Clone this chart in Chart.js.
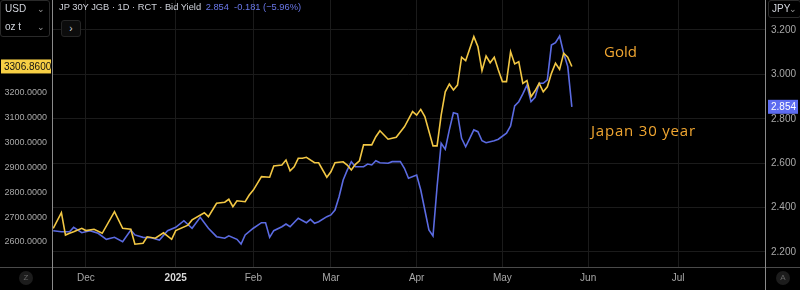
<!DOCTYPE html>
<html>
<head>
<meta charset="utf-8">
<script src="https://cdn.jsdelivr.net/npm/chart.js@4.4.1/dist/chart.umd.min.js"></script>
<style>
  html, body { margin: 0; padding: 0; background: #000; }
  #wrap { position: relative; width: 800px; height: 290px; overflow: hidden; font-family: "Liberation Sans", Arial, sans-serif; }
  canvas { position: absolute; left: 0; top: 0; }
  .box { position: absolute; border: 1px solid #2a2a2a; border-radius: 3px; color: #d1d4dc; font-size: 10px; }
  .row { position: absolute; left: 4px; right: 4px; height: 14px; line-height: 14px; }
  .row span { position: absolute; right: 0; color: #9a9a9a; font-size: 9px; }
  #title { position: absolute; left: 59px; top: 2px; font-size: 9.3px; color: #d1d4dc; white-space: nowrap; }
  #title .chg { color: #6a78ea; margin-left: 2px; }
  #toggle { position: absolute; left: 61px; top: 20px; width: 18px; height: 15px; border: 1px solid #262626; border-radius: 3px; background: #0c0c0c; color: #d1d4dc; font-size: 10px; line-height: 15px; text-align: center; }
  .note { position: absolute; color: #f0a631; font-family: "Open Sans", sans-serif; font-size: 15px; white-space: nowrap; }
  .circ { position: absolute; width: 14px; height: 14px; border-radius: 7px; background: #1c1c1c; color: #666; font-size: 8px; line-height: 14px; text-align: center; }
</style>
</head>
<body>
<div id="wrap">
  <canvas id="chart" width="800" height="290"></canvas>
  <div class="box" style="left:0;top:0;width:48px;height:35px;">
    <div class="row" style="top:1px;">USD<span>⌄</span></div>
    <div class="row" style="top:19px;">oz t<span>⌄</span></div>
  </div>
  <div class="box" style="left:768px;top:0;width:31px;height:16px;">
    <div class="row" style="top:1px;left:3px;right:3px;">JPY<span>⌄</span></div>
  </div>
  <div id="title">JP 30Y JGB · 1D · RCT · Bid Yield <span class="chg">2.854&nbsp; -0.181 (−5.96%)</span></div>
  <div id="toggle">›</div>
  <div class="note" style="left:604px;top:41px;">Gold</div>
  <div class="note" style="left:591px;top:120px;letter-spacing:0.8px;">Japan 30 year</div>
  <div class="circ" style="left:19px;top:271px;">Z</div>
  <div class="circ" style="left:776px;top:271px;">A</div>
</div>
<script>
// trading-day index (0 = first session of Dec 2024)
const monthTicks = [0, 22, 41, 60, 81, 102, 123, 145];
const monthLabels = ['Dec', '2025', 'Feb', 'Mar', 'Apr', 'May', 'Jun', 'Jul'];

const goldDays = [-8, -6, -5, -4, -3, -1, 0, 2, 4, 7, 9, 11, 12, 14, 15, 17, 19, 21, 22, 25,
  26, 29, 30, 32, 34, 35, 36, 37, 39, 40, 41, 43, 45, 46, 48, 49, 50, 51, 52, 53,
  54, 56, 57, 59, 60, 61, 63, 64, 65, 66, 67, 68, 70, 71, 72, 74, 76, 77, 78, 80,
  81, 82, 83, 85, 86, 87, 88, 89, 90, 91, 92, 93, 95, 96, 97, 98, 99, 100, 101, 102,
  103, 104, 105, 106, 107, 108, 109, 110, 111, 112, 113, 114, 115, 116, 117, 118, 119];
const goldPrices = [2655, 2718, 2628, 2635, 2641, 2655, 2646, 2651, 2635, 2722, 2655, 2651, 2591, 2595, 2621, 2615, 2637, 2611, 2646, 2668,
  2689, 2718, 2702, 2756, 2760, 2772, 2742, 2766, 2762, 2789, 2809, 2863, 2861, 2906, 2910, 2930, 2887, 2903, 2937, 2937,
  2941, 2919, 2919, 2861, 2883, 2919, 2923, 2910, 2890, 2913, 2927, 2991, 2991, 3024, 3048, 3014, 3022, 3043, 3064, 3125,
  3111, 3134, 3105, 2987, 2987, 3111, 3205, 3236, 3212, 3232, 3344, 3330, 3427, 3386, 3290, 3349, 3322, 3344, 3293, 3246,
  3246, 3366, 3317, 3326, 3239, 3250, 3185, 3209, 3239, 3205, 3225, 3279, 3320, 3295, 3360, 3344, 3306.86];

const jgbDays = [-8, -6, -4, -3, -1, 1, 3, 5, 7, 9, 11, 12, 14, 16, 18, 20, 22, 24, 26, 28,
  30, 32, 34, 35, 37, 38, 39, 41, 43, 44, 45, 46, 48, 49, 50, 52, 54, 55, 56, 57,
  59, 60, 61, 62, 63, 64, 65, 66, 68, 69, 70, 71, 72, 74, 75, 77, 78, 79, 81, 82,
  83, 84, 85, 86, 87, 88, 89, 90, 91, 92, 93, 94, 95, 96, 97, 98, 100, 101, 103, 104,
  105, 106, 107, 108, 109, 110, 111, 112, 113, 114, 115, 116, 117, 118, 119];
const jgbYields = [2.296, 2.291, 2.291, 2.311, 2.287, 2.296, 2.284, 2.257, 2.266, 2.246, 2.299, 2.277, 2.266, 2.264, 2.254, 2.296, 2.311, 2.341, 2.307, 2.356,
  2.307, 2.269, 2.262, 2.273, 2.257, 2.236, 2.277, 2.307, 2.332, 2.332, 2.266, 2.296, 2.314, 2.326, 2.314, 2.352, 2.332, 2.347, 2.329, 2.336,
  2.359, 2.367, 2.389, 2.449, 2.524, 2.569, 2.607, 2.584, 2.584, 2.596, 2.592, 2.611, 2.602, 2.600, 2.607, 2.607, 2.577, 2.532, 2.547, 2.479,
  2.389, 2.299, 2.272, 2.494, 2.690, 2.663, 2.750, 2.827, 2.822, 2.712, 2.674, 2.712, 2.750, 2.742, 2.701, 2.692, 2.701, 2.708, 2.735, 2.768,
  2.858, 2.877, 2.912, 2.952, 2.877, 2.897, 2.960, 2.960, 2.975, 3.132, 3.143, 3.173, 3.095, 3.035, 2.854];

const goldTicks = [2600, 2700, 2800, 2900, 3000, 3100, 3200];
const jgbTicks = [2.2, 2.4, 2.6, 2.8, 3.0, 3.2];

const GOLD = '#f2c744';
const BLUE = '#5b6be2';

// no extra label padding around the plot
function noPad(s) {
  s.paddingTop = 0;
  s.paddingBottom = 0;
  s.paddingLeft = 0;
  s.paddingRight = 0;
}

// frame lines + last-value badges
const decorations = {
  id: 'decorations',
  beforeDraw(chart) {
    const c = chart.ctx;
    c.save();
    c.fillStyle = '#000';
    c.fillRect(0, 0, chart.width, chart.height);
    c.restore();
  },
  afterDraw(chart) {
    const c = chart.ctx;
    const area = chart.chartArea;
    c.save();
    c.strokeStyle = '#4a4a4a';
    c.lineWidth = 1;
    c.beginPath();
    c.moveTo(0, area.bottom + 0.5);
    c.lineTo(chart.width, area.bottom + 0.5);
    c.stroke();
    c.strokeStyle = '#8a8a8a';
    c.beginPath();
    c.moveTo(area.left + 0.5, 0);
    c.lineTo(area.left + 0.5, chart.height);
    c.moveTo(area.right + 0.5, 0);
    c.lineTo(area.right + 0.5, chart.height);
    c.stroke();

    c.font = '10px "Liberation Sans", Arial, sans-serif';
    c.textBaseline = 'middle';

    const gy = chart.scales.yGold.getPixelForValue(goldPrices[goldPrices.length - 1]);
    c.fillStyle = '#f7cf45';
    c.fillRect(1, gy - 7, area.left - 2, 14);
    c.fillStyle = '#111';
    c.textAlign = 'left';
    c.fillText(goldPrices[goldPrices.length - 1].toFixed(4), 4, gy + 0.5);

    const jy = chart.scales.yJgb.getPixelForValue(jgbYields[jgbYields.length - 1]);
    c.fillStyle = '#5d6cf0';
    c.fillRect(area.right + 3, jy - 7, 30, 14);
    c.fillStyle = '#fff';
    c.fillText(jgbYields[jgbYields.length - 1].toFixed(3), area.right + 6, jy + 0.5);
    c.restore();
  }
};

new Chart(document.getElementById('chart'), {
  type: 'line',
  data: {
    datasets: [
      {
        label: 'Gold',
        data: goldDays.map((d, i) => ({ x: d, y: goldPrices[i] })),
        yAxisID: 'yGold',
        borderColor: GOLD,
        borderWidth: 1.6,
        pointRadius: 0,
        tension: 0
      },
      {
        label: 'Japan 30 year',
        data: jgbDays.map((d, i) => ({ x: d, y: jgbYields[i] })),
        yAxisID: 'yJgb',
        borderColor: BLUE,
        borderWidth: 1.6,
        pointRadius: 0,
        tension: 0
      }
    ]
  },
  options: {
    responsive: false,
    animation: false,
    devicePixelRatio: 1,
    layout: { padding: 0 },
    plugins: { legend: { display: false }, tooltip: { enabled: false } },
    scales: {
      x: {
        type: 'linear',
        min: -8.3,
        max: 166.3,
        afterFit: s => { s.height = 23; noPad(s); },
        afterBuildTicks: s => { s.ticks = monthTicks.map(v => ({ value: v })); },
        grid: { color: '#1b1b1b', drawTicks: false },
        border: { display: false },
        ticks: {
          padding: 5,
          maxRotation: 0,
          autoSkip: false,
          color: ctx => ctx.tick && ctx.tick.value === 22 ? '#d8d8d8' : '#a8a8a8',
          font: ctx => ({ family: '"Liberation Sans", Arial, sans-serif', size: 10, weight: ctx.tick && ctx.tick.value === 22 ? 'bold' : 'normal' }),
          callback: v => monthLabels[monthTicks.indexOf(v)]
        }
      },
      yGold: {
        position: 'left',
        min: 2499.3,
        max: 3574.5,
        afterFit: s => { s.width = 52; noPad(s); },
        afterBuildTicks: s => { s.ticks = goldTicks.map(v => ({ value: v })); },
        grid: { display: false, drawTicks: false },
        border: { display: false },
        ticks: {
          padding: 5,
          color: '#a8a8a8',
          font: { family: '"Liberation Sans", Arial, sans-serif', size: 9 },
          callback: v => v.toFixed(4)
        }
      },
      yJgb: {
        position: 'right',
        min: 2.1324,
        max: 3.3351,
        afterFit: s => { s.width = 35; noPad(s); },
        afterBuildTicks: s => { s.ticks = jgbTicks.map(v => ({ value: v })); },
        grid: { color: '#1b1b1b', drawTicks: false },
        border: { display: false },
        ticks: {
          padding: 6,
          color: '#a8a8a8',
          font: { family: '"Liberation Sans", Arial, sans-serif', size: 10 },
          callback: v => v.toFixed(3)
        }
      }
    }
  },
  plugins: [decorations]
});
</script>
</body>
</html>
